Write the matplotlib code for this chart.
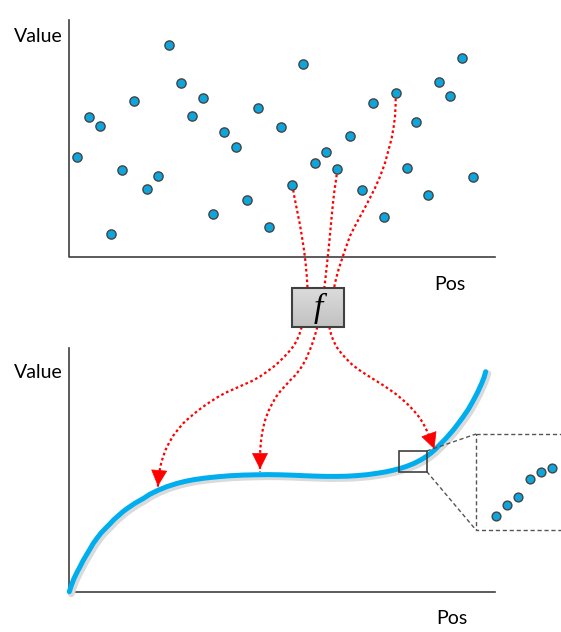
import numpy as np
import matplotlib.pyplot as plt
from matplotlib.patches import Rectangle

# top panel: scattered samples (pixel positions)
pts_x = [77.3, 88.7, 99.7, 111, 122.3, 134, 146.7, 158, 169.3, 181, 192.3, 203.3,
         213, 224.3, 235.7, 247, 258.3, 269.3, 280.7, 292.3, 303.3, 314.7, 326.3,
         337.3, 350.3, 361.7, 373.3, 384.3, 395.7, 406.7, 416.3, 427.7, 439.3,
         450.3, 461.7, 473]
pts_y = [156.7, 117.3, 126.3, 233.7, 170.3, 101.3, 188.7, 176, 44.7, 83.3, 116, 98,
         214.3, 131.7, 146.7, 199.7, 108, 226.7, 127.3, 184.7, 64, 163.3, 152,
         169.3, 136.3, 189.7, 103.3, 216.7, 93.3, 168, 121.7, 195.3, 82,
         95.7, 58.3, 177]

# bottom panel: fitted curve
curve_x = [69.3, 71.5, 74, 77, 80, 83, 86.5, 90, 93.3, 97, 101, 105.5, 110, 114,
           118.5, 122.5, 126.7, 135, 143.3, 150, 157.7, 167, 176.7, 185, 193, 204,
           215, 229, 243, 255, 268, 280, 293, 304, 315, 326, 337, 347, 357, 367,
           377, 385, 392, 400, 407, 414, 421, 427, 431, 435, 440, 446, 453.3, 458,
           463.3, 468.5, 473.3, 477.5, 481.7, 484, 485.7]
curve_y = [591.7, 585, 578.5, 572.3, 566.7, 560.8, 554.8, 549, 543.3, 538.2, 533,
           528.3, 523.8, 519.5, 515.6, 512, 508.8, 503.2, 498.5, 494.2, 490.4, 486.6,
           483.5, 481.4, 479.8, 478.2, 477, 475.8, 475.1, 474.8, 474.6, 474.8, 475.2,
           475.7, 476.1, 476.4, 476.4, 476.2, 475.6, 474.7, 473.3, 472, 470.5, 468.5,
           466.2, 463.4, 459.8, 456, 453, 449.5, 444.5, 438.3, 430, 423.8, 416.7,
           409, 400.5, 392.5, 383.3, 377.5, 371.7]

# zoomed inset samples
ins_x = [495.7, 506.7, 518.3, 530, 541, 552.3]
ins_y = [515.7, 505.3, 497.3, 479.3, 472.3, 467.7]

# red dotted links: samples -> f
top_links = [
    ([292.3, 294, 296, 298, 300, 302, 304, 305.5, 306.7, 307.5],
     [184.7, 195, 205, 215, 225, 237, 250, 262, 275, 288]),
    ([337.3, 336, 334.5, 333, 331.8, 330.6, 329.5, 328.3, 327, 325.7, 324.3],
     [169.3, 180, 190, 203, 215, 228, 240, 252, 264, 276, 288]),
    ([395.7, 395.6, 395, 393.5, 391.5, 388.5, 385, 380, 375, 370, 365, 360, 355,
      350, 345.7, 342, 338.7, 336, 334],
     [93.3, 105, 116.7, 128, 139, 150, 163, 176.7, 188, 198, 207.5, 216.7, 226,
      236, 248, 259, 269, 279, 288]),
]
# f -> curve
bot_links = [
    ([301.7, 299.5, 297, 294, 290, 285, 279, 273.3, 266.5, 260, 252, 243, 234, 225,
      217, 210, 202, 195, 189, 183, 178, 173, 169, 165.5, 163, 161, 159.5, 158.5,
      157.7],
     [327, 334, 340, 345.5, 350.5, 356, 362, 367, 372, 376.5, 381, 385, 389,
      393, 397.5, 402, 407.5, 413, 418, 423.5, 429.5, 436, 443, 450, 457, 464,
      471, 479, 489]),
    ([317.3, 315.5, 313.5, 311.5, 309, 306.5, 303.3, 299.5, 295, 290, 285.5,
      280.5, 276, 272, 268.5, 265.5, 263.3, 261.8, 260.8, 260.2, 260, 260],
     [327, 333.5, 340, 346, 352, 358, 364, 370, 375.5, 380.5, 385.5, 391, 397,
      404, 411, 419, 427, 435, 443, 451, 461, 472]),
    ([329.3, 331, 333.5, 337, 341.5, 346.5, 352, 358.5, 366, 374, 382, 389.5,
      396.5, 403, 409, 414.5, 419.5, 423.5, 427, 430, 432.5, 434.3],
     [327, 334, 341, 347.5, 353.5, 359, 364.5, 369.5, 374.5, 379.5, 384.5,
      389.5, 394.5, 400, 405.5, 411.5, 417.5, 424, 431, 438, 444, 449]),
]

fig = plt.figure(figsize=(5.61, 6.32), dpi=100)
ax = fig.add_axes([0, 0, 1, 1])
ax.set_xlim(0, 561)
ax.set_ylim(632, 0)
ax.axis("off")

fnt = "Lato"
axc = "#404040"
blue = "#0ea5dc"

# axes frames
ax.plot([69, 69, 495], [20, 257, 257], color=axc, lw=1.2)
ax.plot([69, 69, 495], [348, 592, 592], color=axc, lw=1.2)
ax.text(38, 36, "Value", fontsize=14, family=fnt, ha="center", va="center")
ax.text(450, 285, "Pos", fontsize=14, family=fnt, ha="center", va="center")
ax.text(38, 372, "Value", fontsize=14, family=fnt, ha="center", va="center")
ax.text(452, 619, "Pos", fontsize=14, family=fnt, ha="center", va="center")

# links
for xs, ys in top_links + bot_links:
    ax.plot(xs, ys, color="red", lw=1.6, ls=(0, (1.2, 1.2)), zorder=2)
for xs, ys in bot_links:
    ax.annotate("", xy=(xs[-1], ys[-1]), xytext=(xs[-2], ys[-2]),
                arrowprops=dict(arrowstyle="-|>,head_length=0.9,head_width=0.45",
                                color="red", lw=0.5, mutation_scale=12), zorder=4)

# scatter
ax.scatter(pts_x, pts_y, s=44, c=blue, edgecolors="#444444", linewidths=1.0, zorder=3)

# curve with soft shadow
ax.plot(np.array(curve_x) + 2, np.array(curve_y) + 2, color="#dadada", lw=5,
        solid_capstyle="round", zorder=2)
ax.plot(curve_x, curve_y, color="#00aeef", lw=3.6, solid_capstyle="round",
        solid_joinstyle="round", zorder=3)

# f box, light grey gradient
shade = np.linspace(0.86, 0.76, 50)
grad = np.repeat(shade[:, None, None], 3, axis=2)
ax.imshow(grad, extent=[291.7, 344.3, 327.3, 288.3], aspect="auto", zorder=4)
ax.add_patch(Rectangle((291.7, 288.3), 52.6, 39, fill=False, ec=axc, lw=1.5, zorder=5))
ax.text(318, 308, "f", fontsize=24, family="Liberation Serif", style="italic",
        ha="center", va="center", zorder=6)

# zoom box and inset
ax.add_patch(Rectangle((399.3, 451), 27.4, 20.5, fill=False, ec=axc, lw=1.2, zorder=5))
ax.plot([426.7, 476], [451, 434], color="#555555", lw=1, ls=(0, (3, 2)), zorder=4)
ax.plot([426.7, 476], [471.5, 530], color="#555555", lw=1, ls=(0, (3, 2)), zorder=4)
ax.add_patch(Rectangle((476, 434), 100, 96, fill=False, ec="#555555", lw=1,
                       ls=(0, (3, 2)), zorder=4))
ax.scatter(ins_x, ins_y, s=40, c=blue, edgecolors="#444444", linewidths=1.0, zorder=5)

fig.savefig("out.png", dpi=100)
